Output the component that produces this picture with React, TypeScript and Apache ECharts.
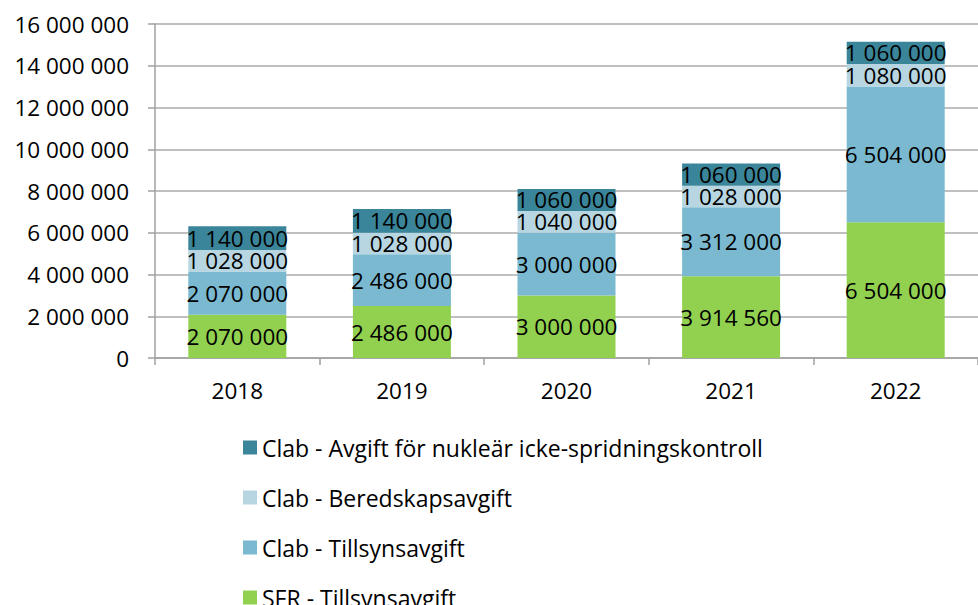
import React, { useEffect, useRef } from "react";
import * as echarts from "echarts";

const categories = ["2018", "2019", "2020", "2021", "2022"];
const sfrTillsyn = [2070000, 2486000, 3000000, 3914560, 6504000];
const clabTillsyn = [2070000, 2486000, 3000000, 3312000, 6504000];
const clabBeredskap = [1028000, 1028000, 1040000, 1028000, 1080000];
const clabAvgift = [1140000, 1140000, 1060000, 1060000, 1060000];
const seriesNames = [
  "SFR - Tillsynsavgift",
  "Clab - Tillsynsavgift",
  "Clab - Beredskapsavgift",
  "Clab - Avgift för nukleär icke-spridningskontroll",
];
const yTicks = [0, 2000000, 4000000, 6000000, 8000000, 10000000, 12000000, 14000000, 16000000];

const FONT = "'Open Sans', 'Noto Sans', sans-serif";

function fmt(v: number): string {
  return String(Math.round(v)).replace(/\B(?=(\d{3})+(?!\d))/g, " ");
}

export default function App() {
  const ref = useRef<HTMLDivElement>(null);
  useEffect(() => {
    if (!ref.current) return;
    const chart = echarts.init(ref.current, undefined, { renderer: "svg" });
    const colors = ["#92D050", "#7AB9CF", "#B7D6E2", "#3A8599"];
    const data = [sfrTillsyn, clabTillsyn, clabBeredskap, clabAvgift];
    chart.setOption({
      animation: false,
      grid: { left: 155, top: 24, width: 830, height: 334, containLabel: false },
      legend: {
        orient: "vertical",
        left: 243,
        top: 436,
        height: 400,
        padding: 0,
        itemWidth: 14,
        itemHeight: 14,
        itemGap: 27,
        icon: "rect",
        data: [seriesNames[3], seriesNames[2], seriesNames[1], seriesNames[0]],
        textStyle: { fontFamily: FONT, fontSize: 23, color: "#000", lineHeight: 22 },
      },
      xAxis: {
        type: "category",
        data: categories,
        axisLine: { lineStyle: { color: "#A0A0A0", width: 1.5 } },
        axisTick: { show: true, alignWithLabel: false, length: 7, lineStyle: { color: "#A0A0A0", width: 1.5 } },
        axisLabel: { fontFamily: FONT, fontSize: 22.5, color: "#000", margin: 21 },
      },
      yAxis: {
        type: "value",
        min: 0,
        max: 16000000,
        interval: 2000000,
        axisLine: { show: true, lineStyle: { color: "#A0A0A0", width: 1.5 } },
        axisTick: { show: true, length: 7, lineStyle: { color: "#A0A0A0", width: 1.5 } },
        splitLine: { lineStyle: { color: "#ABABAB", width: 1.5 } },
        axisLabel: {
          fontFamily: FONT,
          fontSize: 22.5,
          color: "#000",
          margin: 26,
          formatter: (v: number) => (yTicks.includes(v) ? fmt(v) : ""),
        },
      },
      series: data.map((d, i) => ({
        name: seriesNames[i],
        type: "bar",
        stack: "total",
        barWidth: 98,
        data: d,
        itemStyle: { color: colors[i] },
        label: {
          show: true,
          position: "inside",
          color: "#000",
          fontFamily: FONT,
          fontSize: 22.5,
          formatter: (p: any) => fmt(p.value),
        },
        labelLayout: { hideOverlap: false },
      })),
    });
    return () => chart.dispose();
  }, []);
  return (
    <div
      ref={ref}
      style={{ position: "fixed", left: 0, top: 0, width: 978, height: 605, background: "#fff" }}
    />
  );
}
